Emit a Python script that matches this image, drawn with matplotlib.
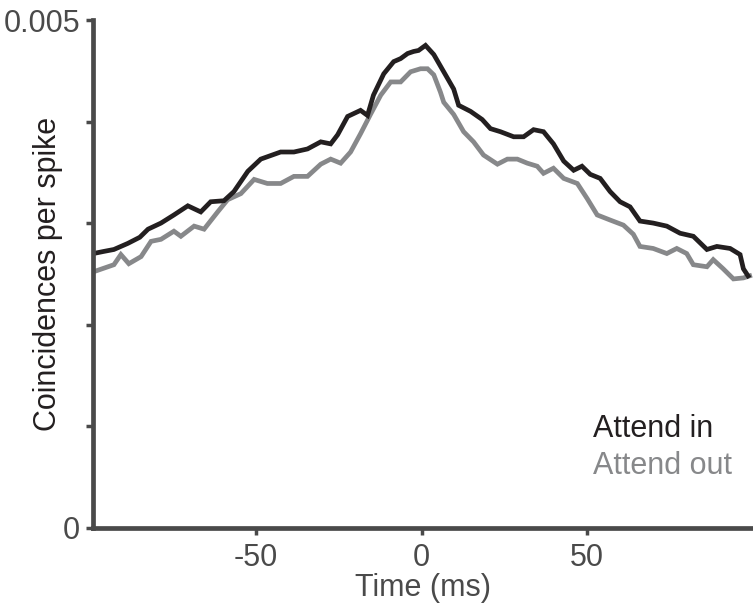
import matplotlib
matplotlib.use("Agg")
import matplotlib.pyplot as plt
from matplotlib import font_manager as fm
import numpy as np

names = {f.name for f in fm.fontManager.ttflist}
FONT = "Liberation Sans Narrow" if "Liberation Sans Narrow" in names else "Liberation Sans"
plt.rcParams['font.family'] = [FONT, 'DejaVu Sans']

# Attend in (black)
t_in = [-99, -96, -92.8, -88.6, -85, -82.5, -78.6, -74.7, -70.5, -66.6, -63.6, -59.6, -56.6,
        -52.4, -48.5, -42.5, -38.5, -34.4, -30.4, -27.4, -25.3, -22.3, -18.4, -16.3, -14.5,
        -11.4, -8.4, -6.3, -4.2, -2.4, -0.9, 1.2, 3.7, 6.7, 9.7, 11.2, 14.8, 18.3, 20.8, 23.8,
        27.8, 30.8, 33.8, 36.8, 39.8, 42.9, 45.9, 48.4, 50.9, 53.9, 56.9, 59.9, 62.9, 65.9,
        69.9, 74, 78, 82, 86.1, 89.1, 93.1, 96.1, 97.1, 98.5]
v_in = [0.00270, 0.00272, 0.00274, 0.00280, 0.00286, 0.00294, 0.00300, 0.00308, 0.00317,
        0.00311, 0.00321, 0.00322, 0.00331, 0.00351, 0.00363, 0.00370, 0.00370, 0.00373,
        0.00380, 0.00378, 0.00387, 0.00405, 0.00411, 0.00406, 0.00426, 0.00447, 0.00459,
        0.00462, 0.00467, 0.00469, 0.00470, 0.00475, 0.00466, 0.00449, 0.00432, 0.00416,
        0.00410, 0.00402, 0.00393, 0.00390, 0.00385, 0.00385, 0.00392, 0.00390, 0.00378,
        0.00361, 0.00352, 0.00356, 0.00348, 0.00344, 0.00331, 0.00321, 0.00316, 0.00302,
        0.00300, 0.00297, 0.00290, 0.00287, 0.00274, 0.00277, 0.00275, 0.00269, 0.00255,
        0.00248]

# Attend out (gray)
t_out = [-99, -92.8, -90.7, -88.3, -84.6, -81.6, -78.6, -74.7, -72.6, -68.6, -65.6, -61.5,
         -58.5, -54.5, -50.5, -46.5, -42.5, -38.5, -34.4, -30.4, -27.4, -24.4, -21.4, -18.4,
         -15.4, -12.3, -9.3, -6.3, -3.3, -0.3, 1.8, 3.7, 5.7, 6.7, 9.7, 12.7, 15.7, 18.7,
         22.9, 25.9, 28.9, 31.9, 34.9, 36.8, 39.8, 42.9, 47, 50, 53, 56.9, 60.9, 63.9, 65.9,
         69.9, 74, 77, 80, 82, 86.1, 88, 91, 94.1, 97.1, 99]
v_out = [0.00252, 0.00259, 0.00269, 0.00260, 0.00267, 0.00282, 0.00284, 0.00292, 0.00287,
         0.00297, 0.00294, 0.00311, 0.00323, 0.00329, 0.00343, 0.00339, 0.00339, 0.00346,
         0.00346, 0.00358, 0.00363, 0.00359, 0.00370, 0.00388, 0.00407, 0.00426, 0.00439,
         0.00439, 0.00449, 0.00452, 0.00452, 0.00446, 0.00429, 0.00419, 0.00407, 0.00390,
         0.00380, 0.00367, 0.00358, 0.00363, 0.00363, 0.00359, 0.00356, 0.00349, 0.00354,
         0.00344, 0.00339, 0.00324, 0.00308, 0.00303, 0.00298, 0.00289, 0.00277, 0.00275,
         0.00270, 0.00275, 0.00270, 0.00259, 0.00257, 0.00264, 0.00255, 0.00245, 0.00246,
         0.00248]

x_ticks = [-50, 0, 50]
x_ticklabels = ["-50", "0", "50"]
y_ticks = [0, 0.001, 0.002, 0.003, 0.004, 0.005]
y_ticklabels = ["0", "", "", "", "", "0.005"]

BLACK = "#231f20"
GRAY = "#87888a"
AXC = "#4a4a4a"
FS = 22

fig = plt.figure(figsize=(7.53, 6.08), dpi=100)
ax = fig.add_axes([92.7/753, 1-527.7/608, 1-92.7/753, (527.7-20)/608])

ax.plot(t_out, v_out, color=GRAY, lw=3.4, solid_joinstyle='miter')
ax.plot(t_in, v_in, color=BLACK, lw=3.4, solid_joinstyle='miter')

ax.set_xlim(-99.2, 100)
ax.set_ylim(0, 0.005)
ax.set_xticks(x_ticks)
ax.set_xticklabels(x_ticklabels)
ax.set_yticks(y_ticks)
ax.set_yticklabels(y_ticklabels)

for s in ['top', 'right']:
    ax.spines[s].set_visible(False)
for s in ['left', 'bottom']:
    ax.spines[s].set_linewidth(3.4)
    ax.spines[s].set_color(AXC)
    ax.spines[s].set_capstyle('projecting')

ax.tick_params(axis='both', direction='out', length=5, width=2.5, color=AXC,
               labelsize=FS, labelcolor="#4a4a4a")
ax.tick_params(axis='x', pad=6)
ax.tick_params(axis='y', pad=4)

ax.set_xlabel("Time (ms)", fontsize=FS, color="#4a4a4a")
ax.xaxis.set_label_coords(0.5, -0.09)
ax.set_ylabel("Coincidences per spike", fontsize=FS, color=BLACK)
ax.yaxis.set_label_coords(-0.045, 0.5)

ax.text(0.757, 0.178, "Attend in", transform=ax.transAxes, fontsize=FS, color=BLACK,
        ha='left', va='baseline')
ax.text(0.757, 0.105, "Attend out", transform=ax.transAxes, fontsize=FS, color=GRAY,
        ha='left', va='baseline')

fig.savefig("out.png", dpi=100)
